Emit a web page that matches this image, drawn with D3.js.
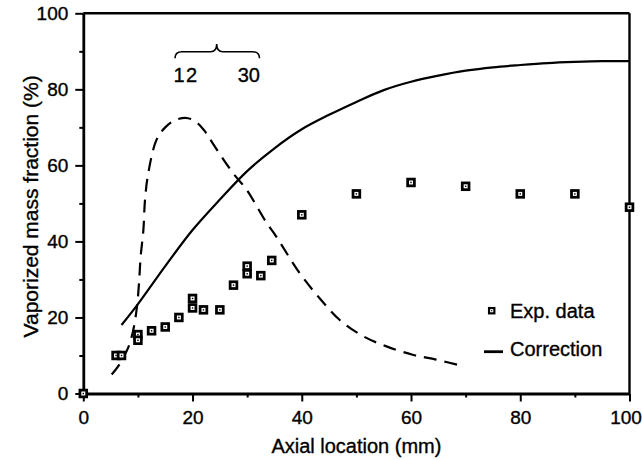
<!DOCTYPE html>
<html>
<head>
<meta charset="utf-8">
<script src="https://cdn.jsdelivr.net/npm/d3@7"></script>
<style>
  html, body { margin: 0; padding: 0; background: #fff; }
  svg { display: block; }
  text { font-family: "Liberation Sans", Arial, Helvetica, sans-serif; fill: #000; stroke: #000; stroke-width: 0.35px; }
</style>
</head>
<body>
<svg id="chart" width="642" height="460"></svg>
<script>
// Experimental vaporized mass fraction along the axis
const expX = [0, 6, 7, 10, 10, 12.5, 15, 17.5, 20, 20, 22, 25, 27.5, 30, 30, 32.5, 34.5, 40, 50, 60, 70, 80, 90, 100];
const expY = [0, 10, 10, 15.5, 14, 16.5, 17.5, 20, 25, 22.5, 22, 22, 28.5, 33.5, 31.5, 31, 35, 47, 52.5, 55.5, 54.5, 52.5, 52.5, 49];

// Correction curve (solid)
const corrX = [7, 10, 15, 20, 25, 30, 35, 40, 45, 50, 55, 60, 65, 70, 75, 80, 85, 90, 95, 100];
const corrY = [18, 23.5, 33.5, 43, 51, 58.5, 64.5, 69.5, 73.3, 76.7, 79.8, 82, 83.6, 84.9, 85.8, 86.4, 86.9, 87.2, 87.4, 87.4];

// Uncorrected curve (dashed)
const dashX = [5.2, 6.4, 8.2, 9.1, 9.8, 10.2, 10.5, 11, 11.3, 11.9, 13.4, 15, 17, 19.2, 21, 22.5, 23.7, 27.4, 29.9, 33.5, 35, 39.6, 43.3, 46.9, 51.2, 55.5, 60.3, 64.6, 69.5];
const dashY = [5, 7.2, 12, 16.4, 22.5, 29, 36, 43, 51, 58, 66.7, 70, 72, 72.4, 71, 68.5, 65.8, 58, 53.6, 45, 42, 31.7, 25, 19.4, 15.1, 12.4, 10.2, 8.9, 7.2];

// Axis ticks
const xTicks = [0, 20, 40, 60, 80, 100];
const xMinor = [10, 30, 50, 70, 90];
const yTicks = [0, 20, 40, 60, 80, 100];
const yMinor = [10, 30, 50, 70, 90];

// Brace annotation labels
const braceLabels = ["12", "30"];

const svg = d3.select("#chart");
const plotL = 83.3, plotR = 629.5, plotT = 13.3, plotB = 393.5;

const x = d3.scaleLinear().domain([0, 100]).range([plotL, plotR]);
const y = d3.scaleLinear().domain([0, 100]).range([plotB, plotT]);

// Frame: top and right borders
svg.append("line").attr("x1", plotL).attr("x2", plotR).attr("y1", plotT).attr("y2", plotT)
  .attr("stroke", "#000").attr("stroke-width", 2.4);
svg.append("line").attr("x1", plotR).attr("x2", plotR).attr("y1", plotT).attr("y2", plotB)
  .attr("stroke", "#000").attr("stroke-width", 2.4);

// Axes
const xAxis = svg.append("g").attr("transform", `translate(0,${plotB})`)
  .call(d3.axisBottom(x).tickValues(xTicks).tickSize(8).tickSizeOuter(0).tickPadding(6));
svg.append("g").attr("transform", `translate(0,${plotB})`)
  .call(d3.axisBottom(x).tickValues(xMinor).tickSize(4).tickFormat(""))
  .call(g => g.select(".domain").remove());
const yAxis = svg.append("g").attr("transform", `translate(${plotL},0)`)
  .call(d3.axisLeft(y).tickValues(yTicks).tickSize(8).tickSizeOuter(0).tickPadding(7));
svg.append("g").attr("transform", `translate(${plotL},0)`)
  .call(d3.axisLeft(y).tickValues(yMinor).tickSize(4).tickFormat(""))
  .call(g => g.select(".domain").remove());

svg.selectAll(".domain").attr("stroke", "#000").attr("stroke-width", 2.8);
svg.selectAll(".tick line").attr("stroke", "#000").attr("stroke-width", 2);
svg.selectAll(".tick text")
  .style("font-family", '"Liberation Sans", Arial, sans-serif')
  .style("font-size", "19px").attr("fill", "#000");
xAxis.selectAll(".tick text").attr("dy", "0.71em").attr("y", 17);
xAxis.selectAll(".tick").filter(d => d === 100).select("text").attr("x", -4);

// Axis titles
svg.append("text")
  .attr("x", (plotL + plotR) / 2).attr("y", 453)
  .attr("text-anchor", "middle").style("font-size", "20px")
  .text("Axial location (mm)");
svg.append("text")
  .attr("transform", `translate(38,${(plotT + plotB) / 2 + 3}) rotate(-90)`)
  .attr("text-anchor", "middle").style("font-size", "21px")
  .text("Vaporized mass fraction (%)");

// Curves
const lineGen = (xs, ys) => d3.line()
  .x(i => x(xs[i])).y(i => y(ys[i]))
  .curve(d3.curveCatmullRom.alpha(0.5))(d3.range(xs.length));

svg.append("path").attr("d", lineGen(dashX, dashY))
  .attr("fill", "none").attr("stroke", "#000").attr("stroke-width", 2.2)
  .attr("stroke-dasharray", "13,8");

svg.append("path").attr("d", lineGen(corrX, corrY))
  .attr("fill", "none").attr("stroke", "#000").attr("stroke-width", 2.2);

// Experimental markers: dark square with a hollow centre
function marker(g, cx, cy, s) {
  g.append("rect").attr("x", cx - s / 2).attr("y", cy - s / 2).attr("width", s).attr("height", s).attr("fill", "#000");
  const w = s * 0.42;
  g.append("rect").attr("x", cx - w / 2).attr("y", cy - w / 2).attr("width", w).attr("height", w).attr("fill", "#fff");
  const d = s * 0.15;
  g.append("rect").attr("x", cx - d / 2).attr("y", cy - d / 2).attr("width", d).attr("height", d).attr("fill", "#000");
}
const pts = svg.append("g");
expX.forEach((v, i) => marker(pts, x(v), y(expY[i]), 9.5));

// Legend
const lg = svg.append("g");
marker(lg, 491.7, 310.7, 7.5);
lg.append("text").attr("x", 510).attr("y", 318.3).style("font-size", "20px").text("Exp. data");
lg.append("line").attr("x1", 484).attr("x2", 503).attr("y1", 351.7).attr("y2", 351.7)
  .attr("stroke", "#000").attr("stroke-width", 2.8);
lg.append("text").attr("x", 510).attr("y", 356).style("font-size", "20px").text("Correction");

// Brace annotation
const bx0 = 175, bx1 = 259.5, bm = 216.7, by = 51.7, bt = 44, be = 58.3;
svg.append("path")
  .attr("d", `M${bx0},${be} Q${bx0},${by} ${bx0 + 7},${by} L${bm - 6},${by} Q${bm},${by} ${bm},${bt} Q${bm},${by} ${bm + 6},${by} L${bx1 - 7},${by} Q${bx1},${by} ${bx1},${be}`)
  .attr("fill", "none").attr("stroke", "#000").attr("stroke-width", 1.6);
svg.append("text").attr("x", 173.5).attr("y", 81.7).style("font-size", "20px")
  .attr("letter-spacing", "1.5px").text(braceLabels[0]);
svg.append("text").attr("x", 260).attr("y", 81.7).attr("text-anchor", "end").style("font-size", "20px")
  .text(braceLabels[1]);
</script>
</body>
</html>
